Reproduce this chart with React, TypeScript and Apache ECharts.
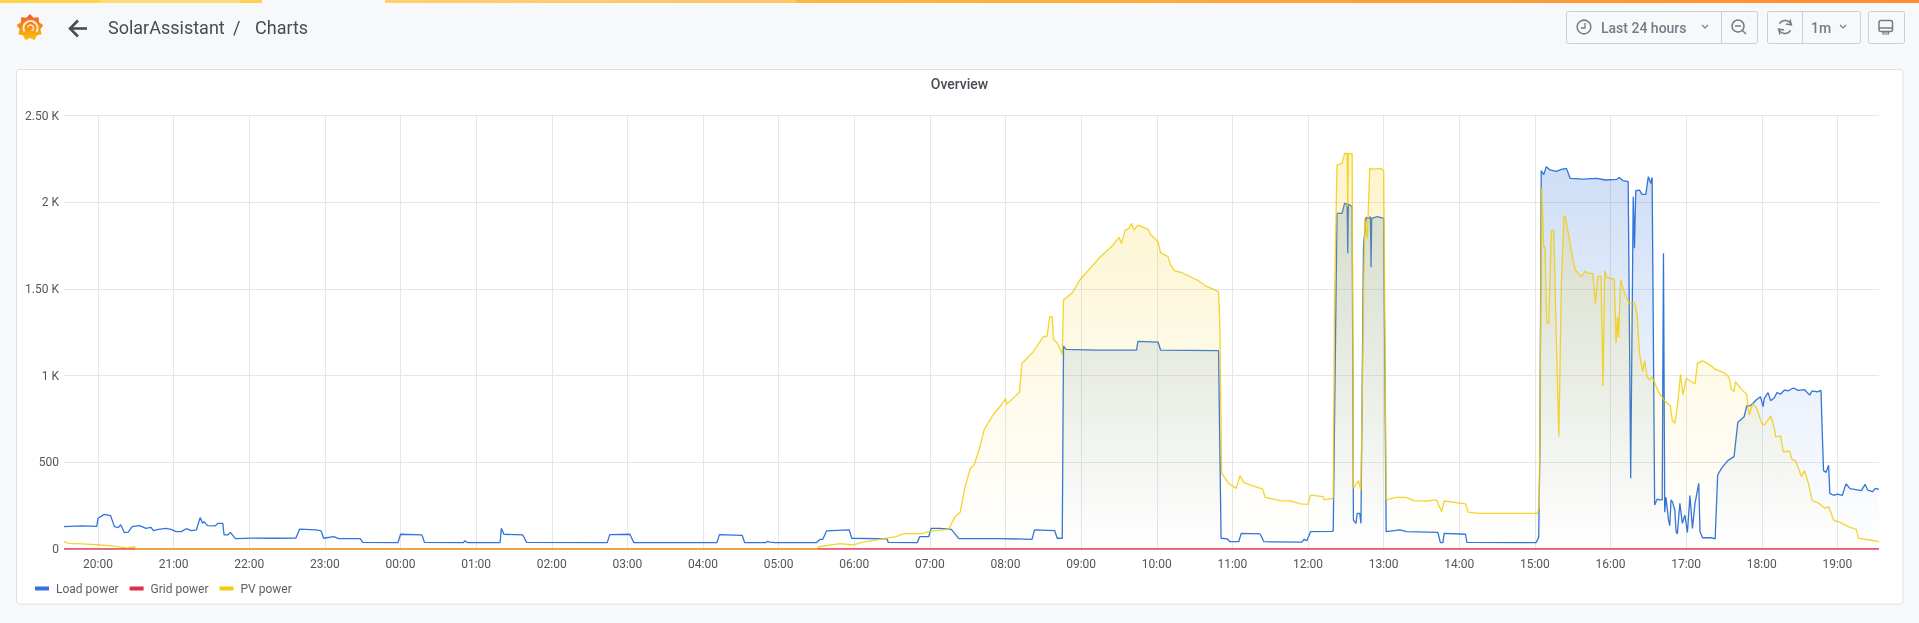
import React, { useEffect, useRef } from "react";
import * as echarts from "echarts";

// Minutes after the window start (19:33) and watts.
const WINDOW_START = Date.UTC(2021, 5, 1, 19, 33);
const WINDOW_MINUTES = 1440;

const loadMinutes = [0,14,26,27,32,37,40,43,45,48,51,54,60,65,69,71,75,81,85,89,93,97,101,105,108,110,111,114,120,122,126,127,130,132,136,150,166,184,187,200,204,206,214,218,235,237,265,267,284,286,317,318,320,346,347,349,364,367,431,433,449,452,518,520,538,540,557,558,560,564,597,600,602,605,623,625,653,654,677,679,686,688,695,704,710,743,768,770,786,788,792,793,795,819,851,852,868,870,916,918,923,925,932,934,949,952,982,984,986,989,1006,1007,1010,1014,1016,1018,1018.5,1019,1020,1022,1023,1025,1026,1028,1029,1031,1033,1035,1036.5,1037,1037.5,1038,1042,1047,1049,1060,1065,1090,1092,1094,1095,1112,1113,1168,1170,1171,1172,1174,1176,1179,1184,1188,1192,1195,1205,1216,1223,1232,1234,1237,1241,1243,1245,1246,1247,1250,1252,1255,1257,1259,1260,1262,1264,1266,1268,1269,1270,1271,1273,1274,1275,1276,1278,1279,1280,1282,1284,1286,1288,1290,1292,1294,1297,1298,1300,1307,1310,1312,1315,1320,1325,1328,1333,1335,1338,1343,1346,1348,1349,1352,1354,1357,1359,1362,1365,1368,1372,1376,1381,1385,1387,1391,1394,1395,1396,1398,1400,1401,1404,1407,1411,1413,1414,1417,1426,1429,1431,1435,1437,1440];
const loadValues = [129,133,131,177,200,192,129,123,140,94,98,129,135,119,125,106,113,119,113,100,100,117,106,110,181,148,158,135,133,148,148,81,81,96,60,63,62,63,115,110,104,62,71,60,60,38,37,85,81,38,37,48,37,37,119,85,81,38,37,83,85,37,37,83,79,37,37,44,40,37,37,56,56,104,110,62,58,38,37,71,71,119,119,113,60,60,56,110,106,62,62,1171,1152,1148,1148,1198,1194,1148,1144,62,58,42,42,90,87,42,40,56,48,100,102,106,1936,1936,1994,1990,1706,1990,1985,1975,167,148,206,206,148,1744,1913,1907,1917,1625,1907,1907,1917,1907,100,110,100,96,37,37,90,85,38,37,67,600,2183,2160,2206,2187,2179,2190,2196,2138,2134,2138,2129,2133,2144,2125,2119,408,2033,1735,2067,2071,2046,2046,2148,2110,2144,254,288,283,283,1706,212,298,167,135,283,273,225,100,87,263,148,196,96,308,119,263,379,100,65,65,58,427,465,510,533,731,763,825,827,863,879,821,869,902,856,873,902,894,917,913,929,915,919,888,913,906,915,667,452,442,483,321,310,317,310,360,375,348,337,373,340,331,350,344,348];

const gridMinutes = [0, 360, 720, 1080, 1440];
const gridValues = [0, 0, 0, 0, 0];

const pvMinutes = [0,3,15,29,40,50,56,57,597,599,610,616,626,632,647,660,667,679,690,702,704,707,711,715,719,722,726,730,737,743,747,748,758,760,769,777,780,782,784,785,788,792,793,800,806,821,831,837,839,842,845,847,849,852,860,862,868,870,876,878,881,887,899,906,916,917,918.5,924,930,933,936,951,953,965,973,981,987,989,999,1000,1006,1007,1008,1010,1014,1016,1018,1018.5,1019,1022,1023,1027,1029,1031,1032,1034,1036,1039,1045,1047,1049,1057,1065,1071,1081,1089,1093,1095,1112,1114,1123,1139,1169,1170.5,1171.5,1172.4,1174,1175,1176.4,1178,1180,1182,1184,1186,1188,1190,1191,1194,1197,1199,1204,1207,1209,1213,1215,1217,1219.5,1221,1222.4,1224,1230,1231.4,1232.5,1233.3,1235,1238,1242,1246,1248,1250,1252.5,1254,1256,1258,1260,1265,1269,1274.5,1276,1278,1280,1282.5,1284.5,1287,1294,1296,1300,1304,1310,1318,1321,1323,1325,1326,1331,1335,1337,1340,1343,1347,1349,1354,1357,1358,1362,1364,1369,1371,1374,1378.5,1381,1384,1387,1392.5,1397,1400,1404,1409.5,1417,1422,1423.6,1433,1440];
const pvValues = [44,33,29,23,17,6,13,0,0,13,25,31,23,37,56,71,90,87,106,113,144,187,212,360,465,485,571,687,773,825,867,836,904,1071,1138,1225,1229,1340,1340,1210,1190,1123,1436,1479,1552,1677,1744,1798,1763,1840,1850,1879,1840,1869,1846,1815,1773,1710,1686,1638,1606,1594,1552,1517,1485,1302,437,379,350,423,383,346,298,279,277,260,258,311,302,283,292,292,1456,2215,2225,2283,2283,1975,2283,2279,350,394,337,1456,1908,1792,2196,2192,2196,2183,283,298,298,279,277,283,215,277,260,213,206,206,206,244,1263,2087,1744,1744,1302,1302,1836,1840,1206,648,1533,1917,1917,1802,1677,1610,1571,1604,1590,1590,1417,1571,1575,940,1606,1567,1556,1187,1340,1221,1552,1479,1417,1421,1360,1129,1023,1087,994,975,994,908,863,825,744,725,821,1008,888,985,952,1071,1085,1071,1038,1013,990,921,908,965,921,892,773,840,811,725,715,767,696,648,652,561,565,517,508,417,452,379,279,263,235,244,167,152,125,113,63,52,42];

const yTicks: Record<number, string> = { 0: "0", 500: "500", 1000: "1 K", 1500: "1.50 K", 2000: "2 K", 2500: "2.50 K" };
const seriesNames = ["Load power", "Grid power", "PV power"];

const BLUE = "#3274d9";
const RED = "#e02f44";
const YELLOW = "#f2cc0c";
const TEXT = "#464c54";
const ICON = "#767b85";
const BORDER = "#c7d0d9";
const FONT = "Roboto";

const toPairs = (mins: number[], vals: number[]) =>
  mins.map((m, i) => [WINDOW_START + m * 60000, vals[i]]);

const fade = (r: number, g: number, b: number, a: number) => ({
  type: "linear",
  x: 0,
  y: 115.7,
  x2: 0,
  y2: 549,
  global: true,
  colorStops: [
    { offset: 0, color: `rgba(${r},${g},${b},${a})` },
    { offset: 1, color: `rgba(${r},${g},${b},0)` },
  ],
});

function gearPoints(cx: number, cy: number, ro: number, ri: number, n: number) {
  const pts: number[][] = [];
  for (let i = 0; i < n * 2; i++) {
    const a = (Math.PI * i) / n - Math.PI / 2;
    const r = i % 2 === 0 ? ro : ri;
    pts.push([cx + r * Math.cos(a), cy + r * Math.sin(a)]);
  }
  return pts;
}

const stroke = (color: string, lineWidth = 1.5) => ({ stroke: color, lineWidth, fill: "none" });
const label = (text: string, x: number, y: number, font: string, fill: string, align = "left") => ({
  type: "text",
  z: 5,
  style: { text, x, y, font, fill, align, verticalAlign: "middle" },
});
const box = (x: number, y: number, width: number, height: number, fill: string, line: string, r = 2) => ({
  type: "rect",
  z: -9,
  shape: { x: x + 0.5, y: y + 0.5, width, height, r },
  style: { fill, stroke: line, lineWidth: 1 },
});
const bar = (x: number, width: number, from: string, to: string) => ({
  type: "rect",
  z: -8,
  shape: { x, y: 0, width, height: 3 },
  style: {
    fill: { type: "linear", x: 0, y: 0, x2: 1, y2: 0, colorStops: [{ offset: 0, color: from }, { offset: 1, color: to }] },
  },
});
const chevron = (x: number, y: number) => ({
  type: "polyline",
  z: 5,
  shape: { points: [[x - 3, y - 1.5], [x, y + 1.5], [x + 3, y - 1.5]] },
  style: stroke(ICON, 1.2),
});

const logoFill = {
  type: "linear",
  x: 0,
  y: 0,
  x2: 0,
  y2: 1,
  colorStops: [
    { offset: 0, color: "#ef5a29" },
    { offset: 1, color: "#fcc30b" },
  ],
};

const pageGraphics = [
  { type: "rect", z: -10, shape: { x: 0, y: 0, width: 1919, height: 623 }, style: { fill: "#f7f8fa" } },
  bar(0, 100, "#ffd34d", "#ffd34d"),
  bar(100, 140, "#ffdc78", "#ffdc78"),
  bar(240, 22, "#ffd153", "#ffd153"),
  bar(385, 411, "#ffd06a", "#ffc566"),
  bar(796, 204, "#fdb743", "#fdb03e"),
  bar(1000, 919, "#fdb03e", "#ff8c2f"),
  {
    type: "rect",
    z: -9,
    shape: { x: 16.5, y: 69.5, width: 1886.5, height: 534.5, r: 3 },
    style: { fill: "#ffffff", stroke: "#dde0e5", lineWidth: 1 },
  },
  { type: "polygon", z: 5, shape: { points: gearPoints(30, 27.5, 13.5, 10.5, 9) }, style: { fill: logoFill } },
  { type: "arc", z: 6, shape: { cx: 30.5, cy: 28, r: 7, startAngle: 2.6, endAngle: 0.6 }, style: stroke("#ffe9c4", 2.2) },
  { type: "arc", z: 6, shape: { cx: 30.5, cy: 28, r: 3, startAngle: 3.4, endAngle: 1.2 }, style: stroke("#ffe9c4", 1.4) },
  { type: "polyline", z: 5, shape: { points: [[87, 28.5], [70, 28.5]] }, style: stroke(TEXT, 2.6) },
  { type: "polyline", z: 5, shape: { points: [[78, 20.5], [70, 28.5], [78, 36.5]] }, style: stroke(TEXT, 2.6) },
  label("SolarAssistant", 108, 27.5, `400 18px ${FONT}`, TEXT),
  label("/", 233, 27.5, `400 18px ${FONT}`, TEXT),
  label("Charts", 255, 27.5, `400 18px ${FONT}`, TEXT),
  box(1566, 11, 191, 32, "#f7f8fa", BORDER),
  { type: "line", z: 5, shape: { x1: 1721.5, y1: 11, x2: 1721.5, y2: 43 }, style: stroke(BORDER, 1) },
  box(1767, 11, 93, 32, "#f7f8fa", BORDER),
  { type: "line", z: 5, shape: { x1: 1802.5, y1: 11, x2: 1802.5, y2: 43 }, style: stroke(BORDER, 1) },
  box(1868, 11, 36, 32, "#f7f8fa", BORDER),
  { type: "circle", z: 5, shape: { cx: 1584, cy: 27, r: 6.8 }, style: stroke(ICON) },
  { type: "polyline", z: 5, shape: { points: [[1585, 23], [1585, 28], [1581, 28]] }, style: stroke(ICON, 1.3) },
  label("Last 24 hours", 1601, 27.5, `500 14px ${FONT}`, ICON),
  chevron(1705, 26.5),
  { type: "circle", z: 5, shape: { cx: 1738, cy: 26, r: 6 }, style: stroke(ICON) },
  { type: "line", z: 5, shape: { x1: 1735, y1: 26, x2: 1741, y2: 26 }, style: stroke(ICON) },
  { type: "line", z: 5, shape: { x1: 1742.5, y1: 30.5, x2: 1746, y2: 34 }, style: stroke(ICON) },
  { type: "arc", z: 5, shape: { cx: 1785, cy: 27, r: 6.5, startAngle: -2.6, endAngle: -0.3 }, style: stroke(ICON) },
  { type: "arc", z: 5, shape: { cx: 1785, cy: 27, r: 6.5, startAngle: 0.55, endAngle: 2.85 }, style: stroke(ICON) },
  { type: "polyline", z: 5, shape: { points: [[1790, 19.5], [1791.5, 25], [1786, 24]] }, style: stroke(ICON, 1.3) },
  { type: "polyline", z: 5, shape: { points: [[1780, 34.5], [1778.5, 29], [1784, 30]] }, style: stroke(ICON, 1.3) },
  label("1m", 1811, 27.5, `500 14px ${FONT}`, ICON),
  chevron(1843, 26.5),
  { type: "rect", z: 5, shape: { x: 1879, y: 20.5, width: 13.5, height: 11, r: 2 }, style: stroke(ICON, 1.5) },
  { type: "line", z: 5, shape: { x1: 1879, y1: 28, x2: 1892, y2: 28 }, style: stroke(ICON, 1.5) },
  { type: "rect", z: 5, shape: { x: 1883, y: 32, width: 5.5, height: 2 }, style: stroke(ICON, 1.2) },
];

export default function App() {
  const ref = useRef<HTMLDivElement>(null);
  useEffect(() => {
    const chart = echarts.init(ref.current!, undefined, { renderer: "svg" });
    const common = {
      type: "line",
      showSymbol: false,
      symbol: "none",
      silent: true,
      smooth: false,
      sampling: undefined,
      emphasis: { disabled: true },
    };
    chart.setOption({
      animation: false,
      useUTC: true,
      backgroundColor: "transparent",
      textStyle: { fontFamily: FONT },
      title: {
        text: "Overview",
        left: "center",
        top: 71,
        textStyle: { fontSize: 14, fontWeight: 500, color: TEXT, fontFamily: FONT, lineHeight: 16 },
      },
      graphic: { elements: pageGraphics },
      legend: {
        left: 30,
        top: 577.5,
        icon: "rect",
        itemWidth: 14,
        itemHeight: 4,
        itemGap: 11,
        selectedMode: false,
        data: seriesNames,
        textStyle: { fontSize: 12, color: "#5a5f68", fontFamily: FONT, padding: [0, 0, 0, 2] },
      },
      grid: { left: 64, right: 40, top: 115.7, height: 433.3, containLabel: false },
      xAxis: {
        type: "time",
        min: WINDOW_START,
        max: WINDOW_START + WINDOW_MINUTES * 60000,
        minInterval: 3600000,
        maxInterval: 3600000,
        axisLine: { show: false },
        axisTick: { show: false },
        axisLabel: {
          formatter: "{HH}:{mm}",
          color: "#52555d",
          fontSize: 12,
          fontFamily: FONT,
          margin: 9,
          showMinLabel: false,
          showMaxLabel: false,
        },
        splitLine: { show: true, showMinLine: false, showMaxLine: false, lineStyle: { color: "#e4e6e9", width: 1 } },
      },
      yAxis: {
        type: "value",
        min: 0,
        max: 2500,
        interval: 500,
        axisLine: { show: false },
        axisTick: { show: false },
        axisLabel: {
          formatter: (v: number) => yTicks[v],
          color: "#52555d",
          fontSize: 12,
          fontFamily: FONT,
          margin: 5,
          padding: [0, 0, 3, 0],
        },
        splitLine: { show: true, lineStyle: { color: "#e4e6e9", width: 1 } },
      },
      series: [
        {
          ...common,
          name: seriesNames[0],
          z: 3,
          data: toPairs(loadMinutes, loadValues),
          itemStyle: { color: BLUE },
          lineStyle: { color: BLUE, width: 1.3 },
          areaStyle: { color: fade(50, 116, 217, 0.38) },
        },
        {
          ...common,
          name: seriesNames[1],
          z: 4,
          data: toPairs(gridMinutes, gridValues),
          itemStyle: { color: RED },
          lineStyle: { color: RED, width: 1.7 },
        },
        {
          ...common,
          name: seriesNames[2],
          z: 5,
          data: toPairs(pvMinutes, pvValues),
          itemStyle: { color: YELLOW },
          lineStyle: { color: YELLOW, width: 1.3, opacity: 0.85 },
          areaStyle: { color: fade(242, 204, 12, 0.33) },
        },
      ],
    });
    return () => chart.dispose();
  }, []);
  return <div ref={ref} style={{ position: "fixed", left: 0, top: 0, width: 1919, height: 623 }} />;
}
